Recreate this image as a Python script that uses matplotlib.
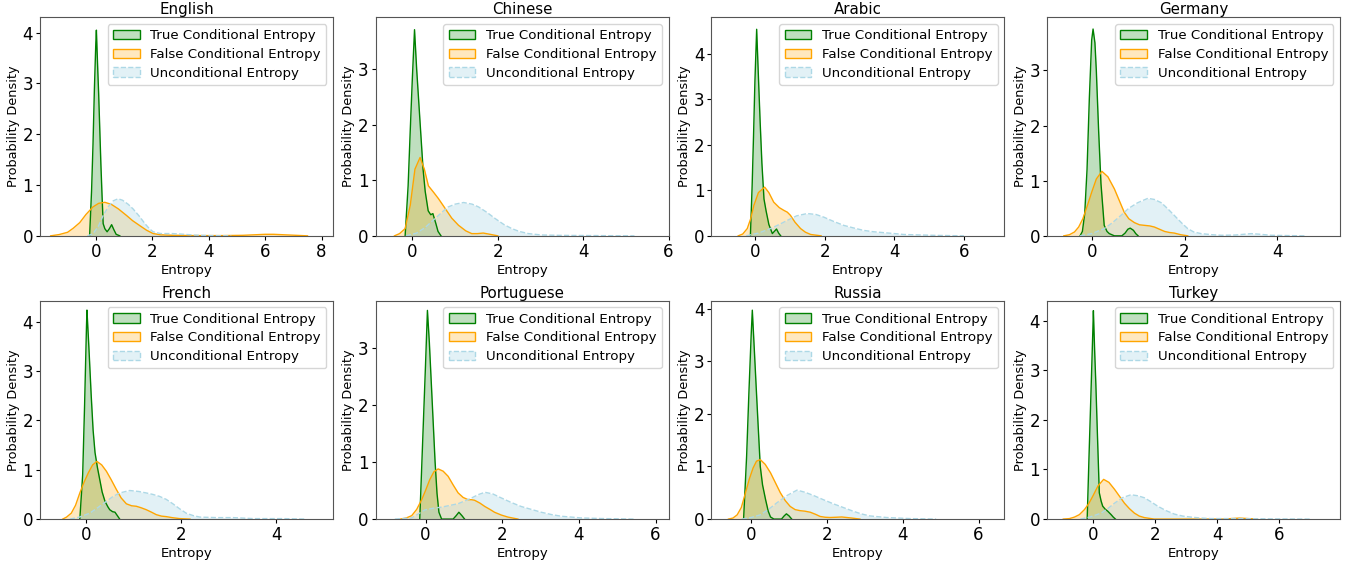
import matplotlib
matplotlib.use('Agg')
import matplotlib.pyplot as plt
import matplotlib.patches as mpatches
from matplotlib.colors import to_rgba
from matplotlib.ticker import MultipleLocator

languages = ['English', 'Chinese', 'Arabic', 'Germany', 'French', 'Portuguese', 'Russia', 'Turkey']
series_labels = ['True Conditional Entropy', 'False Conditional Entropy', 'Unconditional Entropy']

# density curves (entropy, density)
en_true_x = [-0.22, -0.15, -0.1, -0.05, 0.0, 0.02, 0.06, 0.1, 0.14, 0.18, 0.22, 0.26, 0.32, 0.4, 0.48, 0.56, 0.64, 0.72, 0.85]
en_true_y = [0, 0.9, 1.8, 2.9, 3.8, 4.05, 3.4, 2.8, 2.1, 1.4, 0.8, 0.24, 0.14, 0.08, 0.14, 0.22, 0.12, 0.03, 0]
en_false_x = [-1.6, -1.3, -1.0, -0.8, -0.57, -0.35, -0.1, 0.1, 0.32, 0.55, 0.8, 1.09, 1.3, 1.56, 1.8, 2.03, 2.3, 2.7, 3.5, 4.5, 5.2, 5.6, 6.0, 6.3, 6.7, 7.1, 7.5]
en_false_y = [0, 0.025, 0.07, 0.15, 0.26, 0.42, 0.57, 0.64, 0.66, 0.62, 0.53, 0.40, 0.3, 0.2, 0.11, 0.045, 0.02, 0.01, 0.005, 0.005, 0.01, 0.02, 0.03, 0.03, 0.02, 0.01, 0]
en_unc_x = [-0.3, -0.1, 0.1, 0.26, 0.45, 0.62, 0.79, 0.95, 1.15, 1.32, 1.55, 1.74, 1.9, 2.03, 2.3, 2.7, 3.0, 3.5, 4.0, 4.8]
en_unc_y = [0, 0.04, 0.2, 0.4, 0.58, 0.69, 0.73, 0.7, 0.62, 0.53, 0.38, 0.24, 0.14, 0.08, 0.045, 0.045, 0.035, 0.015, 0.005, 0]

zh_true_x = [-0.17, -0.1, -0.05, 0.0, 0.05, 0.1, 0.15, 0.2, 0.25, 0.3, 0.37, 0.43, 0.48, 0.55, 0.6, 0.67]
zh_true_y = [0, 0.9, 1.9, 2.85, 3.71, 3.0, 2.4, 1.8, 1.2, 0.8, 0.45, 0.38, 0.40, 0.22, 0.08, 0]
zh_false_x = [-0.42, -0.3, -0.17, -0.05, 0.06, 0.18, 0.28, 0.375, 0.5, 0.61, 0.77, 0.92, 1.08, 1.25, 1.39, 1.52, 1.66, 1.8, 2.0]
zh_false_y = [0, 0.04, 0.13, 0.55, 1.2, 1.41, 1.2, 0.9, 0.78, 0.67, 0.49, 0.32, 0.19, 0.09, 0.04, 0.04, 0.05, 0.03, 0]
zh_unc_x = [-0.15, 0.1, 0.3, 0.53, 0.7, 0.84, 1.0, 1.2, 1.4, 1.55, 1.75, 1.94, 2.15, 2.33, 2.5, 2.72, 3.03, 3.5, 4.2, 5.2]
zh_unc_y = [0, 0.05, 0.15, 0.31, 0.43, 0.52, 0.57, 0.6, 0.57, 0.52, 0.42, 0.31, 0.2, 0.13, 0.08, 0.04, 0.015, 0.008, 0.005, 0]

ar_true_x = [-0.13, -0.08, -0.04, 0.0, 0.05, 0.1, 0.15, 0.2, 0.26, 0.32, 0.4, 0.5, 0.56, 0.62, 0.68, 0.74]
ar_true_y = [0, 1.1, 2.2, 3.4, 4.54, 3.5, 2.5, 1.6, 0.81, 0.55, 0.25, 0.05, 0.1, 0.15, 0.06, 0]
ar_false_x = [-0.48, -0.35, -0.22, -0.12, -0.03, 0.1, 0.28, 0.4, 0.54, 0.7, 0.83, 0.93, 1.02, 1.15, 1.31, 1.45, 1.6, 1.9]
ar_false_y = [0, 0.04, 0.16, 0.38, 0.67, 0.95, 1.07, 0.95, 0.74, 0.62, 0.56, 0.52, 0.45, 0.3, 0.16, 0.08, 0.03, 0]
ar_unc_x = [-0.25, 0.1, 0.45, 0.7, 0.93, 1.2, 1.5, 1.75, 1.98, 2.25, 2.55, 2.85, 3.12, 3.4, 3.7, 4.0, 4.27, 4.7, 5.2, 6.0]
ar_unc_y = [0, 0.06, 0.16, 0.25, 0.34, 0.44, 0.49, 0.47, 0.41, 0.32, 0.23, 0.17, 0.12, 0.09, 0.07, 0.05, 0.03, 0.02, 0.01, 0]

de_true_x = [-0.25, -0.2, -0.15, -0.1, -0.05, 0.0, 0.03, 0.07, 0.1, 0.15, 0.2, 0.27, 0.33, 0.38, 0.49, 0.65, 0.72, 0.78, 0.83, 0.9, 0.95, 1.0]
de_true_y = [0, 0.08, 0.4, 1.2, 2.5, 3.55, 3.75, 3.5, 3.0, 1.9, 0.95, 0.19, 0.08, 0.04, 0, 0, 0.05, 0.12, 0.14, 0.1, 0.04, 0]
de_false_x = [-0.6, -0.48, -0.37, -0.28, -0.19, -0.1, 0.0, 0.1, 0.22, 0.35, 0.49, 0.6, 0.7, 0.8, 0.92, 1.03, 1.14, 1.25, 1.35, 1.46, 1.57, 1.68, 1.78, 1.92, 2.07]
de_false_y = [0, 0.02, 0.07, 0.16, 0.31, 0.53, 0.79, 1.03, 1.17, 1.07, 0.85, 0.63, 0.43, 0.31, 0.24, 0.2, 0.19, 0.18, 0.16, 0.12, 0.08, 0.06, 0.05, 0.02, 0]
de_unc_x = [-0.25, 0.0, 0.27, 0.45, 0.63, 0.8, 0.99, 1.21, 1.35, 1.5, 1.64, 1.78, 1.93, 2.07, 2.2, 2.36, 2.6, 2.8, 3.1, 3.3, 3.44, 3.6, 3.87, 4.2, 4.6]
de_unc_y = [0, 0.04, 0.13, 0.24, 0.37, 0.5, 0.6, 0.68, 0.66, 0.6, 0.49, 0.37, 0.24, 0.13, 0.07, 0.04, 0.02, 0.01, 0.015, 0.03, 0.04, 0.03, 0.01, 0.005, 0]

fr_true_x = [-0.14, -0.08, -0.04, 0.0, 0.01, 0.05, 0.1, 0.14, 0.18, 0.23, 0.28, 0.33, 0.39, 0.45, 0.49, 0.55, 0.6, 0.65, 0.7]
fr_true_y = [0, 0.9, 2.3, 3.9, 4.24, 3.5, 2.5, 1.8, 1.35, 1.05, 0.8, 0.55, 0.36, 0.25, 0.19, 0.15, 0.14, 0.07, 0]
fr_false_x = [-0.5, -0.42, -0.32, -0.23, -0.14, -0.05, 0.04, 0.13, 0.22, 0.32, 0.42, 0.52, 0.63, 0.73, 0.84, 0.95, 1.05, 1.15, 1.26, 1.37, 1.47, 1.58, 1.68, 1.8, 1.96, 2.18]
fr_false_y = [0, 0.04, 0.12, 0.28, 0.53, 0.75, 0.94, 1.1, 1.17, 1.1, 0.97, 0.8, 0.6, 0.43, 0.31, 0.27, 0.26, 0.23, 0.19, 0.14, 0.09, 0.06, 0.05, 0.03, 0.01, 0]
fr_unc_x = [-0.35, -0.15, 0.07, 0.25, 0.42, 0.56, 0.7, 0.91, 1.1, 1.26, 1.4, 1.54, 1.68, 1.82, 1.96, 2.1, 2.25, 2.39, 2.74, 3.09, 3.51, 4.14, 4.63]
fr_unc_y = [0, 0.04, 0.12, 0.24, 0.36, 0.46, 0.53, 0.58, 0.56, 0.53, 0.5, 0.46, 0.4, 0.31, 0.21, 0.12, 0.07, 0.04, 0.03, 0.03, 0.01, 0.01, 0]

pt_true_x = [-0.15, -0.1, -0.05, 0.0, 0.05, 0.1, 0.15, 0.2, 0.25, 0.3, 0.35, 0.42, 0.72, 0.8, 0.87, 0.95, 1.02]
pt_true_y = [0, 0.9, 1.8, 2.7, 3.66, 3.1, 2.4, 1.7, 1.0, 0.45, 0.12, 0, 0, 0.06, 0.12, 0.06, 0]
pt_false_x = [-0.65, -0.5, -0.36, -0.23, -0.1, 0.0, 0.11, 0.22, 0.33, 0.46, 0.59, 0.72, 0.85, 0.98, 1.11, 1.2, 1.28, 1.42, 1.55, 1.68, 1.8, 1.98, 2.15, 2.41]
pt_false_y = [0, 0.02, 0.06, 0.17, 0.34, 0.5, 0.69, 0.83, 0.88, 0.84, 0.75, 0.6, 0.46, 0.38, 0.34, 0.34, 0.33, 0.28, 0.22, 0.17, 0.12, 0.07, 0.035, 0]
pt_unc_x = [-0.8, -0.36, -0.02, 0.2, 0.42, 0.64, 0.85, 1.03, 1.2, 1.38, 1.55, 1.76, 1.98, 2.24, 2.5, 2.76, 3.02, 3.28, 3.54, 4.06, 4.58, 5.45]
pt_unc_y = [0, 0.02, 0.16, 0.19, 0.21, 0.24, 0.27, 0.32, 0.37, 0.43, 0.47, 0.44, 0.37, 0.29, 0.22, 0.17, 0.12, 0.08, 0.05, 0.02, 0.01, 0]

ru_true_x = [-0.2, -0.12, -0.06, 0.0, 0.03, 0.08, 0.13, 0.18, 0.24, 0.3, 0.38, 0.45, 0.51, 0.6, 0.8, 0.87, 0.93, 1.0, 1.07]
ru_true_y = [0, 1.2, 2.4, 3.5, 3.97, 3.26, 2.54, 1.83, 1.0, 0.65, 0.37, 0.15, 0.04, 0, 0, 0.06, 0.1, 0.06, 0]
ru_false_x = [-0.6, -0.48, -0.37, -0.26, -0.15, -0.05, 0.05, 0.14, 0.24, 0.37, 0.51, 0.64, 0.77, 0.9, 1.03, 1.16, 1.29, 1.42, 1.56, 1.7, 1.82, 1.95, 2.08, 2.25, 2.39, 2.52, 2.65, 2.87]
ru_false_y = [0, 0.02, 0.08, 0.22, 0.5, 0.76, 0.97, 1.1, 1.13, 1.04, 0.88, 0.69, 0.5, 0.35, 0.24, 0.18, 0.16, 0.15, 0.13, 0.09, 0.05, 0.035, 0.03, 0.035, 0.04, 0.03, 0.02, 0]
ru_unc_x = [-0.25, 0.0, 0.24, 0.45, 0.68, 0.95, 1.21, 1.42, 1.64, 1.9, 2.17, 2.43, 2.69, 2.9, 3.13, 3.57, 4.18, 4.88]
ru_unc_y = [0, 0.03, 0.08, 0.18, 0.31, 0.45, 0.55, 0.51, 0.45, 0.37, 0.29, 0.22, 0.15, 0.1, 0.06, 0.03, 0.01, 0]

tr_true_x = [-0.18, -0.12, -0.06, 0.0, 0.02, 0.06, 0.1, 0.15, 0.21, 0.27, 0.32, 0.4, 0.48, 0.59, 0.66, 0.73]
tr_true_y = [0, 1.28, 2.5, 3.75, 4.2, 3.4, 2.7, 1.7, 0.53, 0.36, 0.26, 0.2, 0.16, 0.09, 0.04, 0]
tr_false_x = [-0.95, -0.75, -0.59, -0.43, -0.27, -0.13, 0.0, 0.17, 0.35, 0.52, 0.7, 0.86, 1.02, 1.18, 1.34, 1.5, 1.66, 1.98, 3.0, 4.2, 4.45, 4.72, 5.0, 5.3]
tr_false_y = [0, 0.01, 0.04, 0.09, 0.19, 0.31, 0.46, 0.67, 0.8, 0.74, 0.6, 0.46, 0.32, 0.21, 0.12, 0.06, 0.03, 0, 0, 0, 0.01, 0.02, 0.01, 0]
tr_unc_x = [-0.4, -0.1, 0.27, 0.5, 0.7, 0.95, 1.23, 1.45, 1.66, 1.87, 2.09, 2.36, 2.63, 2.9, 3.16, 3.5, 3.8, 4.66, 5.73, 7.0]
tr_unc_y = [0, 0.04, 0.12, 0.22, 0.32, 0.43, 0.49, 0.47, 0.43, 0.35, 0.26, 0.17, 0.1, 0.06, 0.04, 0.02, 0.01, 0.01, 0.005, 0]

x_limits = [(-1.98, 8.4), (-0.86, 6.0), (-1.25, 7.16), (-0.96, 5.35),
            (-0.98, 5.19), (-1.3, 6.34), (-1.05, 6.68), (-1.47, 7.96)]
y_tops = [4.30, 3.93, 4.8, 3.96, 4.43, 3.83, 4.15, 4.4]

curves = [
    [(en_true_x, en_true_y), (en_false_x, en_false_y), (en_unc_x, en_unc_y)],
    [(zh_true_x, zh_true_y), (zh_false_x, zh_false_y), (zh_unc_x, zh_unc_y)],
    [(ar_true_x, ar_true_y), (ar_false_x, ar_false_y), (ar_unc_x, ar_unc_y)],
    [(de_true_x, de_true_y), (de_false_x, de_false_y), (de_unc_x, de_unc_y)],
    [(fr_true_x, fr_true_y), (fr_false_x, fr_false_y), (fr_unc_x, fr_unc_y)],
    [(pt_true_x, pt_true_y), (pt_false_x, pt_false_y), (pt_unc_x, pt_unc_y)],
    [(ru_true_x, ru_true_y), (ru_false_x, ru_false_y), (ru_unc_x, ru_unc_y)],
    [(tr_true_x, tr_true_y), (tr_false_x, tr_false_y), (tr_unc_x, tr_unc_y)],
]

colors = ['green', 'orange', 'lightblue']
styles = ['-', '-', '--']
alphas = [0.25, 0.25, 0.35]

fig, axes = plt.subplots(2, 4, figsize=(13.54, 5.63), dpi=100)
fig.subplots_adjust(left=0.0295, right=0.9897, top=0.969, bottom=0.078, wspace=0.146, hspace=0.297)

for ax, lang, lang_curves, xl, yt in zip(axes.flat, languages, curves, x_limits, y_tops):
    for (xs, ys), c, ls, a in zip(lang_curves, colors, styles, alphas):
        ax.fill_between(xs, ys, 0, color=c, alpha=a, lw=0)
        ax.plot(xs, ys, color=c, ls=ls, lw=1)
    ax.set_xlim(*xl)
    ax.set_ylim(0, yt)
    ax.xaxis.set_major_locator(MultipleLocator(2))
    ax.yaxis.set_major_locator(MultipleLocator(1))
    ax.set_title(lang, fontsize=10.8, pad=2)
    ax.set_xlabel('Entropy', fontsize=9.5, labelpad=2)
    ax.set_ylabel('Probability Density', fontsize=9.3, labelpad=2)
    ax.tick_params(labelsize=12, length=3, pad=2)
    for s in ax.spines.values():
        s.set_color('#555555')
    handles = [mpatches.Patch(facecolor=to_rgba(c, a), edgecolor=c, linestyle=ls, label=l)
               for c, ls, a, l in zip(colors, styles, alphas, series_labels)]
    ax.legend(handles=handles, loc='upper right', fontsize=9.6, labelspacing=0.42)

fig.savefig('out.png', dpi=100)
